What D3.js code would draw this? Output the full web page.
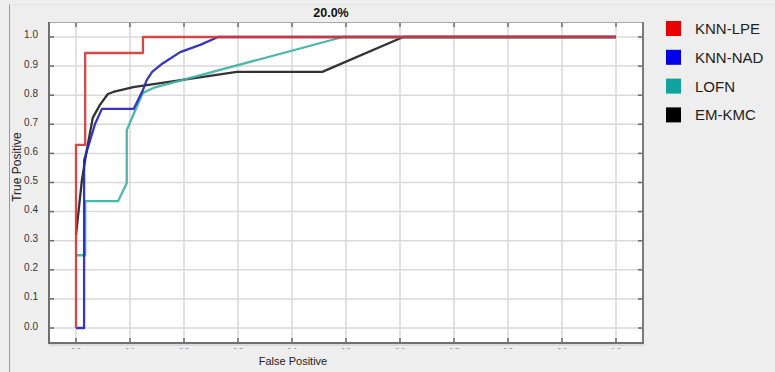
<!DOCTYPE html>
<html><head><meta charset="utf-8">
<script src="https://cdn.jsdelivr.net/npm/d3@7"></script>
<style>
body{margin:0;background:#eeeeee;}
svg{display:block;font-family:"Liberation Sans",Arial,sans-serif;}
</style>
</head><body>
<svg id="chart" width="775" height="372"></svg>
<script>
// ---- data ----
const chartTitle = "20.0%";
const xLabel = "False Positive";
const yLabel = "True Positive";
const seriesNames = ["KNN-LPE", "KNN-NAD", "LOFN", "EM-KMC"];
const xTicks = [0, 0.1, 0.2, 0.3, 0.4, 0.5, 0.6, 0.7, 0.8, 0.9, 1.0];
const yTicks = [0, 0.1, 0.2, 0.3, 0.4, 0.5, 0.6, 0.7, 0.8, 0.9, 1.0];

const knnLpeFpr = [0, 0, 0.017, 0.017, 0.124, 0.124, 1.0];
const knnLpeTpr = [0, 0.629, 0.629, 0.945, 0.945, 1.0, 1.0];

const knnNadFpr = [0, 0.015, 0.015, 0.022, 0.035, 0.048, 0.107, 0.124, 0.131, 0.141, 0.161, 0.193, 0.230, 0.263, 1.0];
const knnNadTpr = [0, 0, 0.577, 0.62, 0.70, 0.753, 0.753, 0.818, 0.852, 0.88, 0.91, 0.948, 0.973, 1.0, 1.0];

const lofnFpr = [0, 0.017, 0.017, 0.078, 0.094, 0.094, 0.106, 0.124, 0.143, 0.494, 1.0];
const lofnTpr = [0.25, 0.25, 0.436, 0.436, 0.498, 0.68, 0.732, 0.808, 0.825, 1.0, 1.0];

const emKmcFpr = [0, 0.011, 0.020, 0.031, 0.044, 0.059, 0.069, 0.106, 0.169, 0.298, 0.456, 0.606, 1.0];
const emKmcTpr = [0.32, 0.509, 0.612, 0.722, 0.766, 0.804, 0.811, 0.828, 0.845, 0.88, 0.88, 1.0, 1.0];

const lineColors = ["#d13a3a", "#2626b8", "#3fb0a6", "#222222"];
const legendColors = ["#e80000", "#0000e8", "#10a39e", "#000000"];

// ---- build ----
const series = [
  {name: seriesNames[0], fpr: knnLpeFpr, tpr: knnLpeTpr, line: lineColors[0], key: legendColors[0]},
  {name: seriesNames[1], fpr: knnNadFpr, tpr: knnNadTpr, line: lineColors[1], key: legendColors[1]},
  {name: seriesNames[2], fpr: lofnFpr, tpr: lofnTpr, line: lineColors[2], key: legendColors[2]},
  {name: seriesNames[3], fpr: emKmcFpr, tpr: emKmcTpr, line: lineColors[3], key: legendColors[3]}
];

const svg = d3.select("#chart");
const L = 49, R = 643, T = 22, B = 343;
const x = d3.scaleLinear().domain([-0.05, 1.05]).range([L, R]);
const y = d3.scaleLinear().domain([-0.0515, 1.0515]).range([B, T]);

// panel left border
svg.append("line").attr("x1", 9.5).attr("x2", 9.5).attr("y1", 4).attr("y2", 372)
  .attr("stroke", "#9a9a9a").attr("stroke-width", 1);
svg.append("line").attr("x1", 9.5).attr("x2", 775).attr("y1", 4.5).attr("y2", 4.5)
  .attr("stroke", "#e4e4e4").attr("stroke-width", 1);

// plot background
svg.append("rect").attr("x", L).attr("y", T).attr("width", R - L).attr("height", B - T).attr("fill", "#ffffff");

// grid
const grid = svg.append("g");
grid.selectAll(".gx").data(xTicks).enter().append("line")
  .attr("x1", d => x(d)).attr("x2", d => x(d)).attr("y1", T).attr("y2", B)
  .attr("stroke", "#d9d9d9").attr("stroke-width", 1.5);
grid.selectAll(".gy").data(yTicks).enter().append("line")
  .attr("y1", d => y(d)).attr("y2", d => y(d)).attr("x1", L).attr("x2", R)
  .attr("stroke", "#d9d9d9").attr("stroke-width", 1.5);

// inward ticks on all four sides
const tk = svg.append("g").attr("stroke", "#6a6a6a").attr("stroke-width", 1.5);
tk.selectAll(".tb").data(xTicks).enter().append("line")
  .attr("x1", d => x(d)).attr("x2", d => x(d)).attr("y1", B).attr("y2", B - 5);
tk.selectAll(".tt").data(xTicks).enter().append("line")
  .attr("x1", d => x(d)).attr("x2", d => x(d)).attr("y1", T).attr("y2", T + 5);
tk.selectAll(".tl").data(yTicks).enter().append("line")
  .attr("y1", d => y(d)).attr("y2", d => y(d)).attr("x1", L).attr("x2", L + 5);
tk.selectAll(".tr").data(yTicks).enter().append("line")
  .attr("y1", d => y(d)).attr("y2", d => y(d)).attr("x1", R).attr("x2", R - 5);

// curves
const lineGen = d3.line().x(d => x(d[0])).y(d => y(d[1]));
const drawOrder = [3, 2, 1, 0];
drawOrder.forEach(i => {
  const s = series[i];
  const pts = s.fpr.map((f, j) => [f, s.tpr[j]]);
  svg.append("path").datum(pts).attr("d", lineGen)
    .attr("fill", "none").attr("stroke", s.line).attr("stroke-width", 2.3)
    .attr("stroke-linejoin", "round").attr("opacity", 0.92);
});

// plot border
svg.append("line").attr("x1", L).attr("x2", R).attr("y1", T + 0.5).attr("y2", T + 0.5).attr("stroke", "#a8a8a8").attr("stroke-width", 1);
svg.append("line").attr("x1", R).attr("x2", R).attr("y1", T).attr("y2", B).attr("stroke", "#7a7a7a").attr("stroke-width", 2);
svg.append("line").attr("x1", L).attr("x2", L).attr("y1", T).attr("y2", B + 1).attr("stroke", "#6f6f6f").attr("stroke-width", 2);
svg.append("line").attr("x1", L).attr("x2", R + 1).attr("y1", B).attr("y2", B).attr("stroke", "#6f6f6f").attr("stroke-width", 2);
svg.append("line").attr("x1", L).attr("x2", R + 1).attr("y1", B + 2).attr("y2", B + 2).attr("stroke", "#c8c8c8").attr("stroke-width", 1);

// y tick labels
svg.append("g").selectAll("text").data(yTicks).enter().append("text")
  .attr("x", 38).attr("y", d => y(d) - 2).attr("dy", "0.35em")
  .attr("text-anchor", "end").attr("font-size", 10).attr("fill", "#333")
  .text(d => d3.format(".1f")(d));

// x tick labels (only their tops are visible, as in the reference)
svg.append("clipPath").attr("id", "xclip").append("rect")
  .attr("x", 0).attr("y", B + 3).attr("width", 775).attr("height", 3);
svg.append("g").attr("clip-path", "url(#xclip)").selectAll("text").data(xTicks).enter().append("text")
  .attr("x", d => x(d)).attr("y", B + 10).attr("text-anchor", "middle")
  .attr("font-size", 7).attr("fill", "#777")
  .text(d => d3.format(".1f")(d));

// axis titles
svg.append("text").attr("x", 293).attr("y", 365).attr("text-anchor", "middle")
  .attr("font-size", 11).attr("fill", "#222").text(xLabel);
svg.append("text").attr("transform", "translate(21,167) rotate(-90)").attr("text-anchor", "middle")
  .attr("font-size", 12).attr("fill", "#222").text(yLabel);

// title
svg.append("text").attr("x", 331).attr("y", 17).attr("text-anchor", "middle")
  .attr("font-size", 12.5).attr("font-weight", "bold").attr("fill", "#111").text(chartTitle);

// legend
const lg = svg.append("g").selectAll("g").data(series).enter().append("g")
  .attr("transform", (d, i) => `translate(666,${21 + i * 28.8})`);
lg.append("rect").attr("width", 15).attr("height", 15).attr("fill", d => d.key);
lg.append("text").attr("x", 29).attr("y", 7.5).attr("dy", "0.36em")
  .attr("font-size", 15).attr("fill", "#222").text(d => d.name);
</script>
</body></html>
